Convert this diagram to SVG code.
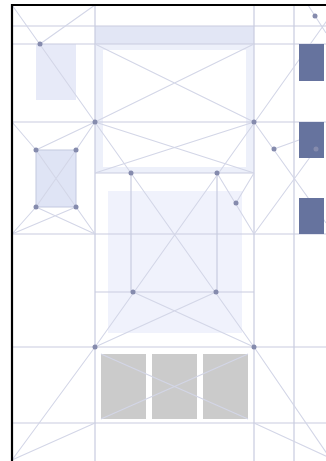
<svg xmlns="http://www.w3.org/2000/svg" width="326" height="461" viewBox="0 0 326 461">
<style>
.ln{stroke:#c9ccdf;stroke-width:1.2;fill:none}
.dg{stroke:#d3d6e7;stroke-width:1.1;fill:none}
.dot{fill:#858bad}
.dark{fill:#66739e}
.gray{fill:#cbcbcb}
</style>
<rect width="326" height="461" fill="#ffffff"/>
<g id="fills">
  <g id="top-box"><rect x="95" y="26" width="159" height="147" fill="#edf0fa"/><rect x="95" y="26" width="159" height="18" fill="#e2e6f5"/><rect x="103" y="50" width="143" height="117" fill="#ffffff"/></g>
  <g id="mid-box"><rect x="108" y="191" width="134" height="142" fill="#f0f2fc"/></g>
  <g id="tl-box"><rect x="36" y="44" width="40" height="56" fill="#e7eaf8"/></g>
  <g id="left-box"><rect x="36" y="150" width="40" height="57" fill="#dfe4f5" stroke="#c3c9e0" stroke-width="1"/></g>
</g>
<g id="connectors">
  <path class="ln" d="M12 26H326M12 44H326M12 122H326M12 234H326M12 347H326M12 423H326M95 5V461M254 5V461M294 5V461M95 173H254M95 292H254M131 173V292M217 173V292"/>
  <path class="dg" d="M12 5L254 347M338 5L95 347M40 44L95 5M95 44L254 122M254 44L95 122M95 122L254 173M254 122L95 173M12 122L36 150M95 122L36 150M95 122L76 150M36 207L12 234M36 207L95 234M76 207L12 234M76 207L95 234M36 150L76 207M76 150L36 207M217 173L254 234M254 173L236 203M254 122L326 223M274 149L299 140M316 149L254 234M308 5L326 33M133 292L254 347M216 292L95 347M95 347L12 460M95 423L12 460M254 347L330 458M254 423L330 458"/>
</g>
<g id="gray-boxes">
  <rect id="g1" class="gray" x="101" y="354" width="45" height="65"/>
  <rect id="g2" class="gray" x="152" y="354" width="45" height="65"/>
  <rect id="g3" class="gray" x="203" y="354" width="45" height="65"/>
  <path class="dg" d="M101 354L248 419M101 419L248 354" stroke="#bdbfcc"/>
</g>
<g id="dark-boxes">
  <rect id="d1" class="dark" x="299" y="44" width="25" height="37"/>
  <rect id="d2" class="dark" x="299" y="122" width="25" height="36"/>
  <rect id="d3" class="dark" x="299" y="198" width="25" height="36"/>
</g>
<g id="nodes">
  <circle id="n1" class="dot" cx="40" cy="44" r="2.5"/>
  <circle id="n2" class="dot" cx="95" cy="122" r="2.5"/>
  <circle id="n3" class="dot" cx="254" cy="122" r="2.5"/>
  <circle id="n4" class="dot" cx="131" cy="173" r="2.5"/>
  <circle id="n5" class="dot" cx="217" cy="173" r="2.5"/>
  <circle id="n6" class="dot" cx="236" cy="203" r="2.5"/>
  <circle id="n7" class="dot" cx="274" cy="149" r="2.5"/>
  <circle id="n8" class="dot" cx="316" cy="149" r="2.5"/>
  <circle id="n9" class="dot" cx="315" cy="16" r="2.5"/>
  <circle id="n10" class="dot" cx="36" cy="150" r="2.5"/>
  <circle id="n11" class="dot" cx="76" cy="150" r="2.5"/>
  <circle id="n12" class="dot" cx="36" cy="207" r="2.5"/>
  <circle id="n13" class="dot" cx="76" cy="207" r="2.5"/>
  <circle id="n14" class="dot" cx="133" cy="292" r="2.5"/>
  <circle id="n15" class="dot" cx="216" cy="292" r="2.5"/>
  <circle id="n16" class="dot" cx="95" cy="347" r="2.5"/>
  <circle id="n17" class="dot" cx="254" cy="347" r="2.5"/>
</g>
<g id="frame"><path d="M12 461V5H326" fill="none" stroke="#000000" stroke-width="2.2"/></g>
</svg>
